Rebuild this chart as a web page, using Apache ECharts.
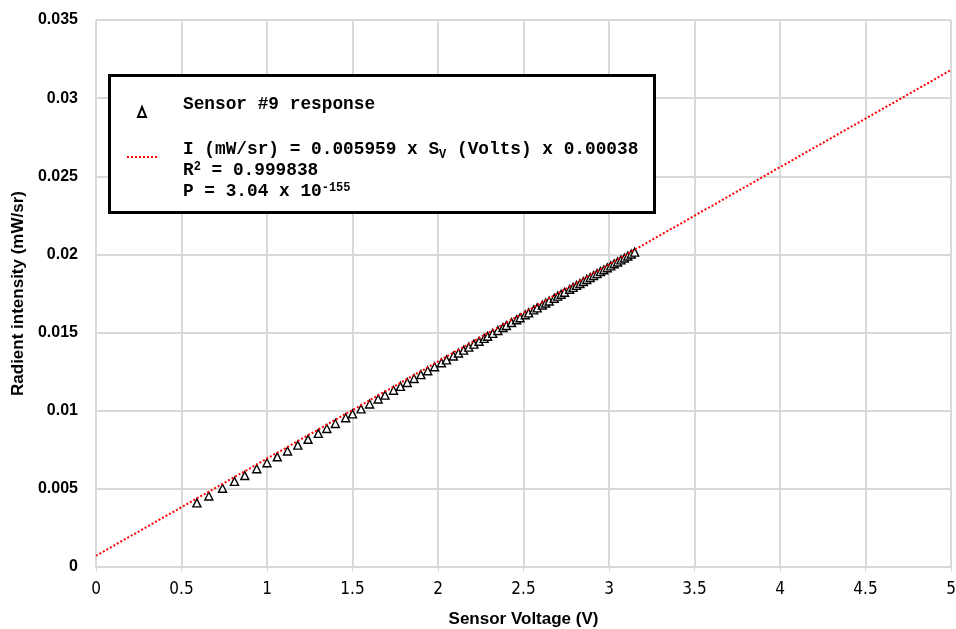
<!DOCTYPE html>
<html>
<head>
<meta charset="utf-8">
<script src="https://cdn.jsdelivr.net/npm/echarts@6/dist/echarts.min.js"></script>
<style>
  html, body { margin: 0; padding: 0; background: #fff; }
  #chart { width: 956px; height: 629px; }
</style>
</head>
<body>
<div id="chart"></div>
<script>
// sensor #9 readings (volts) and measured radiant intensity (mW/sr)
var voltage = [0.59, 0.66, 0.74, 0.81, 0.87, 0.94, 1.00, 1.06, 1.12, 1.18, 1.24, 1.30, 1.35, 1.40, 1.46, 1.50, 1.55, 1.60, 1.65, 1.69, 1.74, 1.78, 1.82, 1.86, 1.90, 1.94, 1.98, 2.02, 2.05, 2.09, 2.12, 2.15, 2.18, 2.21, 2.24, 2.27, 2.29, 2.32, 2.35, 2.38, 2.40, 2.43, 2.46, 2.48, 2.51, 2.53, 2.56, 2.58, 2.61, 2.63, 2.65, 2.68, 2.70, 2.72, 2.74, 2.77, 2.79, 2.81, 2.83, 2.85, 2.87, 2.89, 2.91, 2.93, 2.95, 2.97, 2.99, 3.01, 3.03, 3.05, 3.07, 3.09, 3.11, 3.13, 3.15]
var intensity = [0.00410, 0.00454, 0.00504, 0.00548, 0.00585, 0.00629, 0.00667, 0.00705, 0.00742, 0.00780, 0.00817, 0.00855, 0.00886, 0.00918, 0.00955, 0.00980, 0.01012, 0.01043, 0.01075, 0.01100, 0.01131, 0.01156, 0.01181, 0.01206, 0.01231, 0.01256, 0.01281, 0.01307, 0.01325, 0.01350, 0.01369, 0.01388, 0.01407, 0.01426, 0.01444, 0.01463, 0.01476, 0.01495, 0.01513, 0.01532, 0.01545, 0.01564, 0.01582, 0.01595, 0.01614, 0.01626, 0.01645, 0.01658, 0.01676, 0.01689, 0.01702, 0.01720, 0.01733, 0.01745, 0.01758, 0.01777, 0.01789, 0.01802, 0.01814, 0.01827, 0.01840, 0.01852, 0.01865, 0.01877, 0.01890, 0.01902, 0.01915, 0.01927, 0.01940, 0.01952, 0.01965, 0.01977, 0.01990, 0.02003, 0.02015]

// linear trendline end points as drawn
var trendX = [0, 5]
var trendY = [0.00072, 0.0318]

var pts = voltage.map(function (v, i) { return [v, intensity[i]] })
var trend = trendX.map(function (v, i) { return [v, trendY[i]] })

var mono = "'Liberation Mono', 'DejaVu Sans Mono', monospace"
var gridGray = '#d9d9d9'

var dom = echarts.init(document.getElementById('chart'))
var option = {
  animation: false,
  backgroundColor: '#fff',
  grid: { left: 96, right: 5, top: 20, bottom: 62, outerBoundsMode: 'none', containLabel: false },
  xAxis: {
    type: 'value',
    min: 0, max: 5, interval: 0.5,
    name: 'Sensor Voltage (V)',
    nameLocation: 'middle',
    nameGap: 44,
    nameTextStyle: { fontFamily: 'Liberation Sans', fontWeight: 'bold', fontSize: 17, color: '#000' },
    axisLine: { show: true, onZero: false, lineStyle: { color: gridGray, width: 2 } },
    axisTick: { show: true, length: 5, lineStyle: { color: gridGray, width: 1 } },
    axisLabel: { margin: 14, fontFamily: "'Liberation Sans Narrow', 'DejaVu Sans Condensed', sans-serif", fontSize: 17, color: '#000' },
    splitLine: { show: true, lineStyle: { color: gridGray, width: 2 } }
  },
  yAxis: {
    type: 'value',
    min: 0, max: 0.035, interval: 0.005,
    name: 'Radient intensity (mW/sr)',
    nameLocation: 'middle',
    nameGap: 63,
    nameTextStyle: { fontFamily: 'Liberation Sans', fontWeight: 'bold', fontSize: 17, color: '#000' },
    axisLine: { show: true, lineStyle: { color: gridGray, width: 1.5 } },
    axisTick: { show: false },
    axisLabel: {
      margin: 18,
      fontFamily: 'Liberation Sans', fontWeight: 'bold', fontSize: 16, color: '#000',
      formatter: function (v) { return String(+v.toFixed(3)) }
    },
    splitLine: { show: true, lineStyle: { color: gridGray, width: 2 } }
  },
  series: [
    {
      name: 'Sensor #9 response',
      type: 'scatter',
      data: pts,
      symbol: 'triangle',
      symbolSize: [8, 8],
      itemStyle: { color: '#fff', borderColor: '#000', borderWidth: 1.4, opacity: 1 },
      z: 2
    },
    {
      name: 'trend',
      type: 'line',
      data: trend,
      showSymbol: false,
      symbol: 'none',
      lineStyle: { color: '#ff0000', width: 2, type: [2, 2] },
      z: 3
    }
  ],
  graphic: [
    {
      type: 'rect',
      shape: { x: 109.5, y: 75.5, width: 545, height: 137 },
      style: { fill: '#fff', stroke: '#000', lineWidth: 3 },
      z: 10
    },
    {
      type: 'polygon',
      shape: { points: [[142, 107], [138, 117], [146, 117]] },
      style: { fill: '#fff', stroke: '#000', lineWidth: 2 },
      z: 11
    },
    {
      type: 'line',
      shape: { x1: 127, y1: 157, x2: 157, y2: 157 },
      style: { stroke: '#ff0000', lineWidth: 2, lineDash: [2, 2] },
      z: 11
    },
    {
      type: 'text',
      x: 183, y: 105,
      style: {
        text: 'Sensor #9 response',
        font: 'bold 17.8px ' + mono,
        fill: '#000',
        verticalAlign: 'middle'
      },
      z: 11
    },
    {
      type: 'text',
      x: 183, y: 139.5,
      style: {
        text: '{n|I (mW/sr) = 0.005959 x S}{sub|V}{n| (Volts) x 0.00038}\n{n|R}{sup|2}{n| = 0.999838}\n{n|P = 3.04 x 10}{sup|-155}',
        fill: '#000',
        verticalAlign: 'top',
        rich: {
          n: { fontFamily: mono, fontWeight: 'bold', fontSize: 17.8, lineHeight: 21, fill: '#000' },
          sub: { fontFamily: mono, fontWeight: 'bold', fontSize: 12, lineHeight: 10, verticalAlign: 'bottom', fill: '#000' },
          sup: { fontFamily: mono, fontWeight: 'bold', fontSize: 12, lineHeight: 10, verticalAlign: 'top', fill: '#000' }
        }
      },
      z: 11
    }
  ]
}
dom.setOption(option)
window.addEventListener('resize', function () { dom.resize() })
</script>
</body>
</html>
